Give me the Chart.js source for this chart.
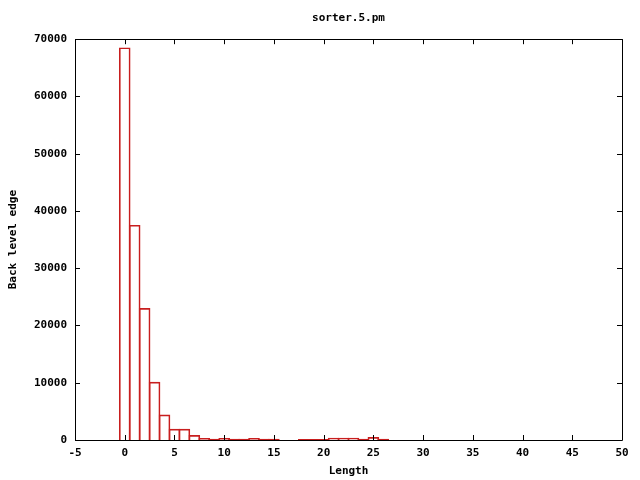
<!DOCTYPE html>
<html>
<head>
<meta charset="utf-8">
<title>sorter.5.pm</title>
<script src="https://cdn.jsdelivr.net/npm/chart.js"></script>
<style>
  html, body { margin: 0; padding: 0; background: #fff; }
  canvas { display: block; }
</style>
</head>
<body>
<canvas id="chart" width="640" height="480"></canvas>
<script>
const lengths = [0, 1, 2, 3, 4, 5, 6, 7, 8, 9, 10, 11, 12, 13, 14, 15, 16, 17, 18, 19, 20, 21, 22, 23, 24, 25, 26];
const counts = [68500, 37500, 23000, 10100, 4400, 1900, 1900, 800, 300, 150, 300, 150, 150, 300, 150, 150, null, null, 100, 100, 100, 350, 350, 350, 150, 450, 150];
const xTicks = [-5, 0, 5, 10, 15, 20, 25, 30, 35, 40, 45, 50];
const yTicks = [0, 10000, 20000, 30000, 40000, 50000, 60000, 70000];

const FONT = { family: '"DejaVu Sans Mono", monospace', size: 11, weight: 'bold', lineHeight: 1.2 };

// cadre + graduations vers l'intérieur, façon gnuplot
const frameTicks = {
  id: 'frameTicks',
  afterDatasetsDraw(chart) {
    const { ctx, chartArea: a, scales } = chart;
    const len = 5;
    ctx.save();
    ctx.strokeStyle = '#000';
    ctx.lineWidth = 1;
    ctx.beginPath();
    ctx.rect(Math.round(a.left) + 0.5, Math.round(a.top) + 0.5,
      Math.round(a.right - a.left), Math.round(a.bottom - a.top));
    xTicks.forEach(v => {
      const x = Math.round(scales.x.getPixelForValue(v)) + 0.5;
      ctx.moveTo(x, a.bottom); ctx.lineTo(x, a.bottom - len);
      ctx.moveTo(x, a.top); ctx.lineTo(x, a.top + len);
    });
    yTicks.forEach(v => {
      const y = Math.round(scales.y.getPixelForValue(v)) + 0.5;
      ctx.moveTo(a.left, y); ctx.lineTo(a.left + len, y);
      ctx.moveTo(a.right, y); ctx.lineTo(a.right - len, y);
    });
    ctx.stroke();
    ctx.restore();
  }
};

new Chart(document.getElementById('chart').getContext('2d'), {
  type: 'bar',
  data: {
    datasets: [{
      data: lengths.map((x, i) => ({ x: x, y: counts[i] })),
      backgroundColor: 'rgba(255,255,255,0)',
      borderColor: '#c81e1e',
      borderWidth: 1,
      // une unité (~9.95 px) + 1 px pour que les bords voisins se superposent
      barThickness: 10.95
    }]
  },
  options: {
    responsive: false,
    animation: false,
    layout: { padding: { left: 0, right: 18, top: 0, bottom: 0 } },
    plugins: {
      legend: { display: false },
      tooltip: { enabled: false },
      title: {
        display: true,
        fullSize: false,
        text: 'sorter.5.pm',
        color: '#000',
        font: FONT,
        padding: { top: 12, bottom: 14 }
      }
    },
    scales: {
      x: {
        type: 'linear',
        min: -5,
        max: 50,
        offset: false,
        grid: { display: false, drawTicks: false, offset: false },
        border: { display: false },
        afterFit: s => { s.height = 40; },
        afterBuildTicks: s => { s.ticks = xTicks.map(v => ({ value: v })); },
        ticks: { color: '#000', font: FONT, padding: 7, maxRotation: 0, autoSkip: false },
        title: { display: true, text: 'Length', color: '#000', font: FONT, padding: { top: 0, bottom: 2 } }
      },
      y: {
        min: 0,
        max: 70000,
        grid: { display: false, drawTicks: false },
        border: { display: false },
        afterFit: s => { s.width = 75; },
        afterBuildTicks: s => { s.ticks = yTicks.map(v => ({ value: v })); },
        ticks: { color: '#000', font: FONT, padding: 8, autoSkip: false, callback: v => String(v) },
        title: { display: true, text: 'Back level edge', color: '#000', font: FONT, padding: { top: 7, bottom: 0 } }
      }
    }
  },
  plugins: [frameTicks]
});
</script>
</body>
</html>
